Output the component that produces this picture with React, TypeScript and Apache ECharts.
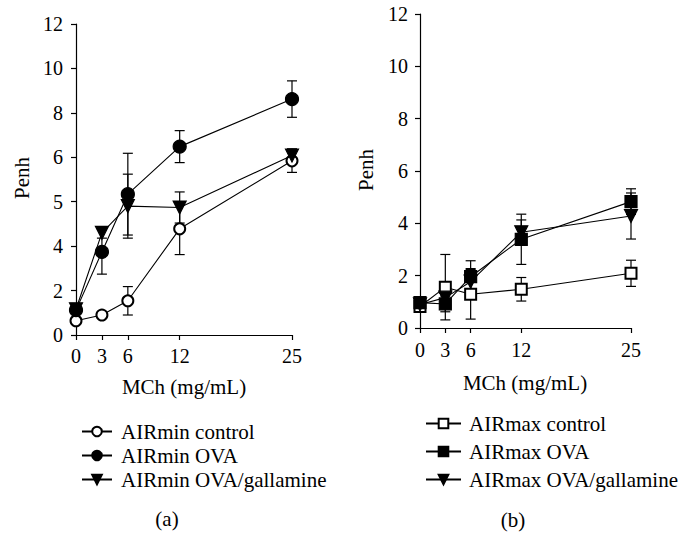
import React, { useEffect, useRef } from "react";
import * as echarts from "echarts";

const doses = [0, 3, 6, 12, 25];
const xTickValues = [0, 3, 6, 12, 25];
// Panel (a) y axis: labels as printed on the figure (evenly spaced positions 0..7)
const yLabelsA = ["0", "2", "4", "5", "6", "8", "10", "12"];

// Panel (a) values, in axis-position units of the printed scale
const airminControl = [0.32, 0.45, 0.77, 2.39, 3.92];
const airminControlErr = [0.05, 0.05, 0.32, 0.58, 0.26];
const airminOva = [0.56, 1.87, 3.17, 4.24, 5.31];
const airminOvaErr = [0.08, 0.5, 0.92, 0.36, 0.41];
const airminGal = [0.58, 2.3, 2.9, 2.87, 4.04];
const airminGalErr = [0.08, 0.12, 0.72, 0.35, 0.15];

// Panel (b) values (Penh)
const airmaxControl = [0.82, 1.56, 1.29, 1.48, 2.09];
const airmaxControlErr = [0.08, 1.25, 0.95, 0.45, 0.5];
const airmaxOva = [0.97, 0.92, 1.96, 3.39, 4.83];
const airmaxOvaErr = [0.08, 0.3, 0.61, 0.96, 0.49];
const airmaxGal = [0.9, 1.16, 1.77, 3.66, 4.28];
const airmaxGalErr = [0.08, 0.3, 0.5, 0.47, 0.88];

const FONT = "'Liberation Serif', 'DejaVu Serif', serif";
const FS = 20;
const FS2 = 21;

const pts = (vals: number[]) => doses.map((d, i) => [d, vals[i]]);
const errs = (vals: number[], e: number[]) =>
  doses.map((d, i) => [d, vals[i] - e[i], vals[i] + e[i]]);

function errorSeries(idx: number, vals: number[], e: number[]) {
  return {
    type: "custom",
    xAxisIndex: idx,
    yAxisIndex: idx,
    z: 1,
    silent: true,
    data: errs(vals, e),
    renderItem: (params: any, api: any) => {
      const x = api.value(0);
      const lo = api.coord([x, api.value(1)]);
      const hi = api.coord([x, api.value(2)]);
      const w = 5;
      const style = { stroke: "#000", lineWidth: 1.2 };
      return {
        type: "group",
        children: [
          { type: "line", shape: { x1: lo[0], y1: lo[1], x2: hi[0], y2: hi[1] }, style },
          { type: "line", shape: { x1: lo[0] - w, y1: lo[1], x2: lo[0] + w, y2: lo[1] }, style },
          { type: "line", shape: { x1: hi[0] - w, y1: hi[1], x2: hi[0] + w, y2: hi[1] }, style },
        ],
      };
    },
  };
}

function lineSeries(
  name: string,
  idx: number,
  vals: number[],
  symbol: string,
  rotate: number,
  size: number,
  z: number
) {
  return {
    type: "line",
    name,
    xAxisIndex: idx,
    yAxisIndex: idx,
    data: pts(vals),
    symbol,
    symbolSize: size,
    symbolRotate: rotate,
    showAllSymbol: true,
    z,
    lineStyle: { color: "#000", width: 1.1 },
    itemStyle: { color: "#000", borderColor: "#000", borderWidth: 1.2 },
  };
}

function xAxis(idx: number, margin: number) {
  return {
    type: "value",
    gridIndex: idx,
    min: 0,
    max: 25,
    axisLine: { show: true, lineStyle: { color: "#000", width: 1.2 } },
    axisTick: { show: true, length: 5, customValues: xTickValues, lineStyle: { color: "#000", width: 1.2 } },
    axisLabel: {
      customValues: xTickValues,
      color: "#000",
      fontFamily: FONT,
      fontSize: FS,
      margin,
    },
    splitLine: { show: false },
  };
}

export default function App() {
  const ref = useRef<HTMLDivElement>(null);
  useEffect(() => {
    if (!ref.current) return;
    const chart = echarts.init(ref.current, null, { renderer: "svg" });
    const legendText = { color: "#000", fontFamily: FONT, fontSize: FS2, lineHeight: 20 };
    const t = (x: number, y: number, text: string, rot = 0) => ({
      type: "text",
      x,
      y,
      rotation: rot,
      style: { text, font: `${FS2}px ${FONT}`, fill: "#000", align: "center", verticalAlign: "middle" },
    });
    chart.setOption({
      animation: false,
      backgroundColor: "#fff",
      grid: [
        { left: 76, top: 24, width: 216, height: 311 },
        { left: 420, top: 14, width: 211, height: 314 },
      ],
      xAxis: [xAxis(0, 11), xAxis(1, 12)],
      yAxis: [
        {
          type: "value",
          gridIndex: 0,
          min: 0,
          max: 7,
          interval: 1,
          axisLine: { show: true, lineStyle: { color: "#000", width: 1.2 } },
          axisTick: { show: true, length: 5, lineStyle: { color: "#000", width: 1.2 } },
          axisLabel: {
            color: "#000",
            fontFamily: FONT,
            fontSize: FS,
            margin: 13,
            formatter: (v: number) => yLabelsA[Math.round(v)],
          },
          splitLine: { show: false },
        },
        {
          type: "value",
          gridIndex: 1,
          min: 0,
          max: 12,
          interval: 2,
          axisLine: { show: true, lineStyle: { color: "#000", width: 1.2 } },
          axisTick: { show: true, length: 5, lineStyle: { color: "#000", width: 1.2 } },
          axisLabel: { color: "#000", fontFamily: FONT, fontSize: FS, margin: 12 },
          splitLine: { show: false },
        },
      ],
      legend: [
        {
          orient: "vertical",
          left: 76,
          top: 416,
          itemWidth: 30,
          itemHeight: 12,
          itemGap: 3,
          data: ["AIRmin control", "AIRmin OVA", "AIRmin OVA/gallamine"],
          textStyle: { ...legendText, padding: [0, 0, 0, 4] },
          selectedMode: false,
        },
        {
          orient: "vertical",
          left: 420,
          top: 408,
          itemWidth: 35,
          itemHeight: 12,
          itemGap: 7,
          data: ["AIRmax control", "AIRmax OVA", "AIRmax OVA/gallamine"],
          textStyle: { ...legendText, padding: [0, 0, 0, 3] },
          selectedMode: false,
        },
      ],
      graphic: [
        t(22, 178, "Penh", Math.PI / 2),
        t(366, 170, "Penh", Math.PI / 2),
        t(184, 387, "MCh (mg/mL)"),
        t(525, 383, "MCh (mg/mL)"),
        t(167, 519, "(a)"),
        t(513, 520, "(b)"),
      ],
      series: [
        errorSeries(0, airminControl, airminControlErr),
        errorSeries(0, airminOva, airminOvaErr),
        errorSeries(0, airminGal, airminGalErr),
        errorSeries(1, airmaxControl, airmaxControlErr),
        errorSeries(1, airmaxOva, airmaxOvaErr),
        errorSeries(1, airmaxGal, airmaxGalErr),
        lineSeries("AIRmin control", 0, airminControl, "emptyCircle", 0, 11, 3),
        lineSeries("AIRmin OVA", 0, airminOva, "circle", 0, 13, 5),
        lineSeries("AIRmin OVA/gallamine", 0, airminGal, "triangle", 180, 13, 4),
        lineSeries("AIRmax control", 1, airmaxControl, "emptyRect", 0, 11, 3),
        lineSeries("AIRmax OVA", 1, airmaxOva, "rect", 0, 12, 5),
        lineSeries("AIRmax OVA/gallamine", 1, airmaxGal, "triangle", 180, 13, 4),
      ],
    });
    return () => chart.dispose();
  }, []);
  return (
    <div
      ref={ref}
      style={{ position: "absolute", left: 0, top: 0, width: 681, height: 533 }}
    />
  );
}
